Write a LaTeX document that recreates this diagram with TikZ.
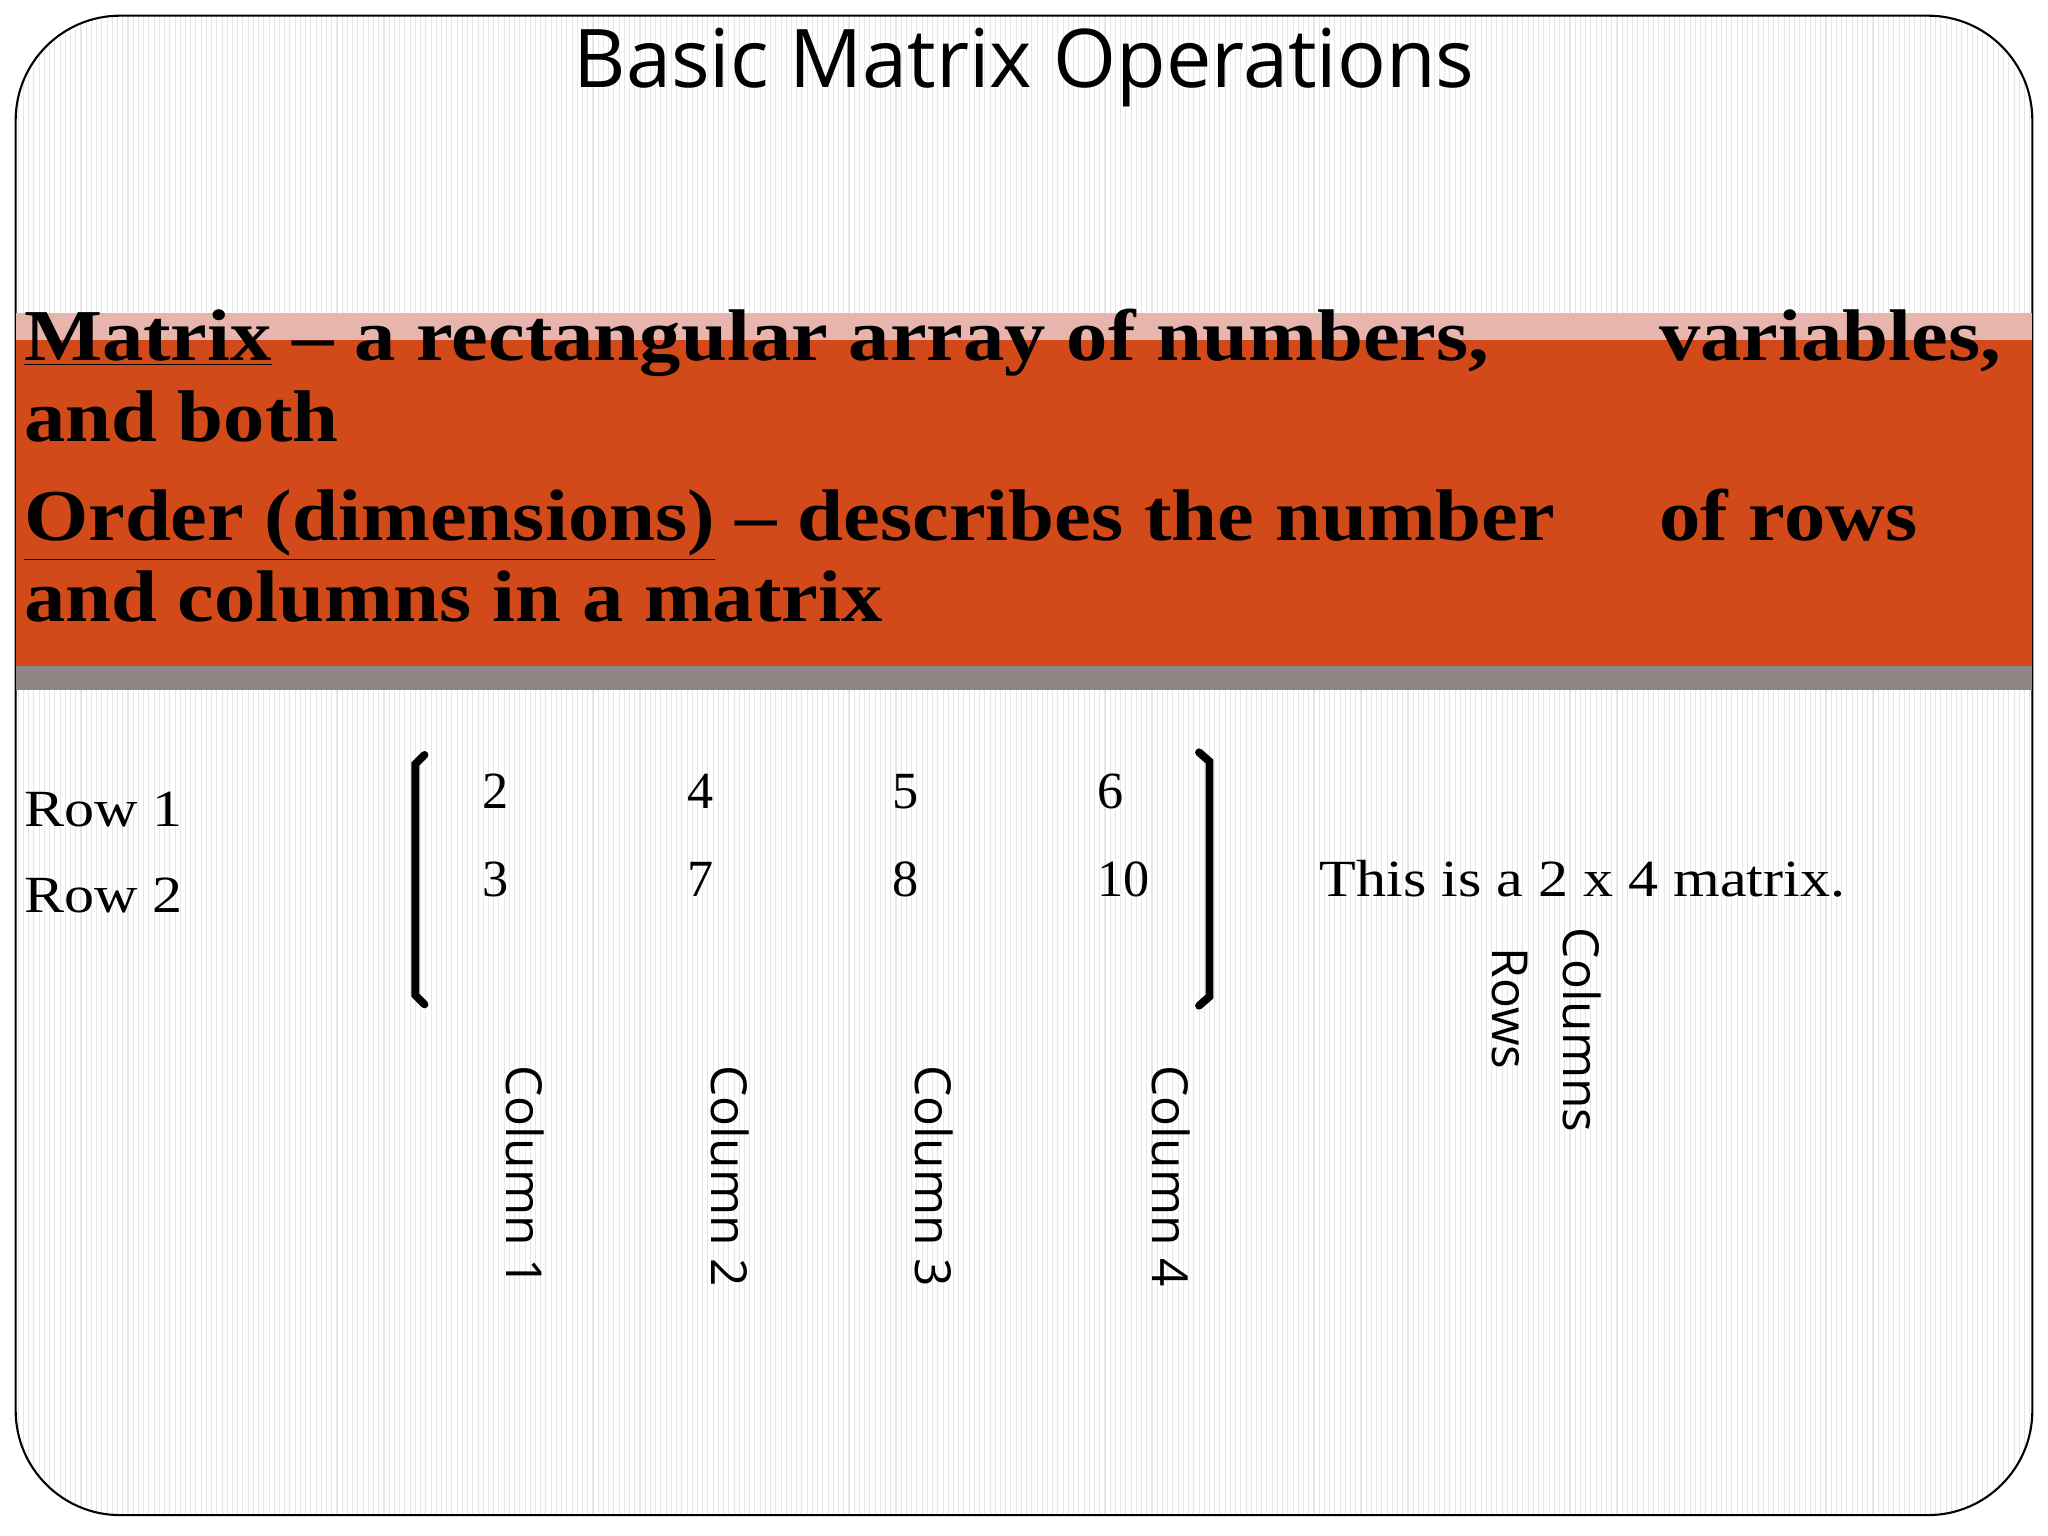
\documentclass[tikz,border=0pt]{standalone}
\usepackage{fontspec}
\setmainfont{Liberation Serif}
\newfontfamily\widebold[FakeStretch=1.13]{Liberation Serif}
\newfontfamily\wideser[FakeStretch=1.15]{Liberation Serif}
\newfontfamily\osans{Open Sans}
\definecolor{pinkband}{HTML}{E8B4AE}
\definecolor{orangeband}{HTML}{D24A1A}
\definecolor{grayband}{HTML}{8F8585}
\definecolor{stripe}{HTML}{E6E6E6}
\begin{document}
\begin{tikzpicture}[x=0.5pt,y=-0.5pt,
  bold/.style={anchor=base west,inner sep=0,font=\widebold\fontsize{28}{30}\selectfont\bfseries},
  rowlab/.style={anchor=base west,inner sep=0,font=\wideser\fontsize{20}{22}\selectfont},
  entry/.style={anchor=base west,inner sep=0,font=\fontsize{20}{22}\selectfont},
  collab/.style={anchor=north west,inner sep=0,rotate=-90,font=\osans\fontsize{19}{21}\selectfont}]
\useasboundingbox (0,0) rectangle (1568,1176);
\fill[white] (0,0) rectangle (1568,1176);
\begin{scope}
\clip[rounded corners=40] (12,12) rectangle (1556,1160);
\foreach \i in {14,18,...,1556} \draw[stripe,line width=0.4pt] (\i,12) -- (\i,1160);
\end{scope}
\draw[line width=0.8pt,rounded corners=40] (12,12) rectangle (1556,1160);
\node[font=\osans\fontsize{31}{33}\selectfont,inner sep=0] (title) at (784,52) {Basic Matrix Operations};
\fill[pinkband] (12,240) rectangle (1556,260);
\fill[orangeband] (12,260) rectangle (1556,510);
\fill[grayband] (12,510) rectangle (1556,528);
\node[bold] (l1) at (18,276) {\underline{Matrix} – a rectangular array of numbers,};
\node[bold] (l1b) at (1270,276) {variables,};
\node[bold] (l2) at (18,338) {and both};
\node[bold] (l3) at (18,414) {\underline{Order (dimensions)} – describes the number};
\node[bold] (l3b) at (1270,414) {of rows};
\node[bold] (l4) at (18,476) {and columns in a matrix};
\node[rowlab] (r1) at (18,633) {Row 1};
\node[rowlab] (r2) at (18,699) {Row 2};
\foreach \v/\x/\y [count=\k] in {2/369/619,4/526/619,5/683/619,6/840/619,3/369/686,7/526/686,8/683/686,10/840/686}
  \node[entry] (e\k) at (\x,\y) {\v};
\draw[line width=3pt,line cap=round] (325,578) -- (318,585) -- (318,762) -- (325,769);
\draw[line width=3pt,line cap=round] (918,576) -- (926,583) -- (926,763) -- (918,770);
\node[rowlab] (desc) at (1010,686) {This is a 2 x 4 matrix.};
\node[collab] (c1) at (417,815) {Column 1};
\node[collab] (c2) at (574,815) {Column 2};
\node[collab] (c3) at (730,815) {Column 3};
\node[collab] (c4) at (912,815) {Column 4};
\node[collab] (rows) at (1170,725) {Rows};
\node[collab] (cols) at (1226,710) {Columns};
\end{tikzpicture}
\end{document}
